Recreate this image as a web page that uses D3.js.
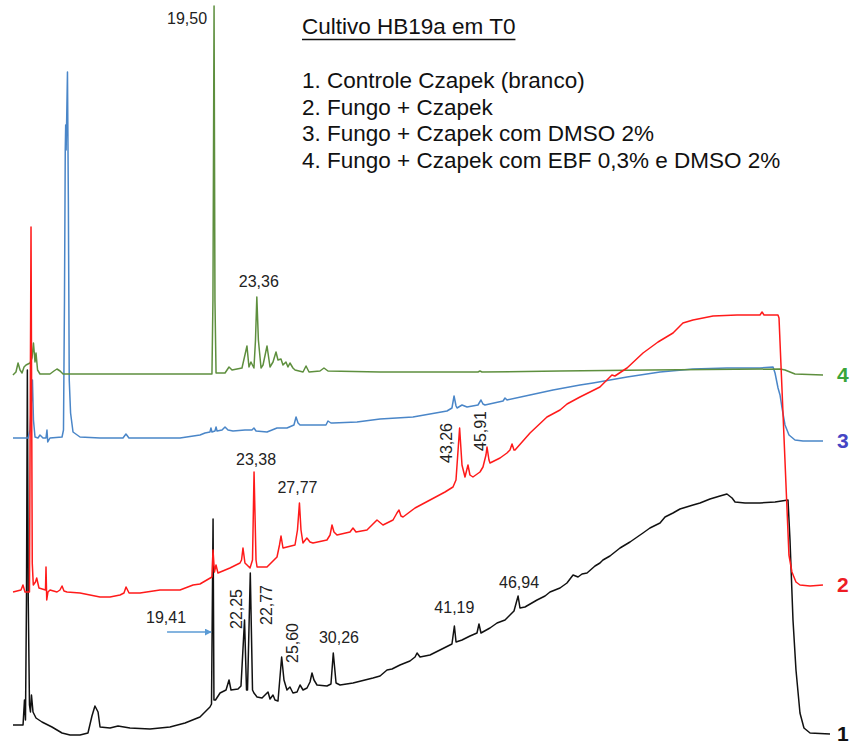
<!DOCTYPE html>
<html>
<head>
<meta charset="utf-8">
<script src="https://cdn.jsdelivr.net/npm/d3@7/dist/d3.min.js"></script>
<style>
  html, body { margin: 0; padding: 0; background: #fff; }
  svg { display: block; font-family: "Liberation Sans", Arial, sans-serif; }
</style>
</head>
<body>
<svg id="chart" width="856" height="744"></svg>
<script>
// Stacked HPLC chromatograms: [retention time (min), signal (mAU)]
const trace1 = [[1.35,1.5],[2.26,1.5],[2.39,14],[2.48,4],[2.57,64],[2.65,179],[2.73,64],[2.84,11.5],[2.93,8],[3.02,16.5],[3.16,8],[3.43,5],[3.97,3],[4.87,0.5],[5.78,-2.5],[6.50,-3.5],[7.40,-3.5],[8.12,-2.5],[8.48,6],[8.75,11],[9.03,8],[9.21,0.5],[10.11,0],[10.83,1],[11.91,0],[13.72,-0.5],[15.52,0.5],[16.88,2.5],[18.23,5.5],[19.13,10.5],[19.27,12],[19.41,104.5],[19.49,14],[19.63,14],[20.04,17.5],[20.58,19],[20.85,24],[21.03,19],[21.66,19.5],[21.93,21],[22.25,54],[22.43,19],[22.52,19],[22.77,77.5],[22.97,19],[23.10,17.5],[23.38,15.5],[23.83,15],[24.19,17],[24.37,18],[24.55,14.5],[24.82,16.5],[25.00,14],[25.27,13.5],[25.60,35.5],[25.81,24],[26.08,19],[26.35,20.5],[26.62,17.5],[26.99,18],[27.26,21.5],[27.53,19],[27.89,20],[28.16,23],[28.34,27.5],[28.52,24],[28.79,21.5],[29.69,21],[30.05,22],[30.26,37.5],[30.51,22.5],[30.87,21.5],[32.04,22.5],[33.12,24],[33.84,25],[34.48,26],[35.11,29],[35.56,29.5],[36.28,31.5],[37.18,33.5],[37.64,35.5],[37.82,37.5],[38.09,35.5],[38.99,36.5],[39.89,39],[40.61,41],[40.97,42],[41.19,51],[41.34,43],[41.88,44],[42.60,46],[43.23,47.5],[43.41,52],[43.59,47.5],[44.40,50],[45.04,52.5],[45.76,54],[46.21,56.5],[46.57,58.5],[46.94,66],[47.11,60],[47.56,60.5],[48.65,64],[49.37,66],[49.82,68],[50.72,70],[51.35,72.5],[51.90,76.5],[52.35,75.5],[52.71,77],[53.16,77.5],[53.88,81],[54.33,82.5],[54.60,84],[55.23,86],[56.14,90],[57.04,93],[58.21,97.5],[58.84,100],[59.75,102.5],[60.20,105.5],[60.92,107.5],[61.55,109.5],[62.73,111.5],[63.36,112.5],[64.26,114.5],[65.16,116],[65.79,117],[66.25,115],[66.52,113],[67.42,112.5],[68.77,112.5],[70.13,113],[71.30,114],[71.48,94],[71.75,54],[72.02,29],[72.38,7.5],[72.74,0],[73.29,-2.5],[75.09,-3]];

const trace2 = [[0.07,0],[0.84,1],[1.03,3.5],[1.23,0],[1.66,0],[1.81,182.5],[1.93,14.5],[2.03,3.5],[2.24,5],[2.36,7],[2.58,2],[3.21,1],[3.26,12.5],[3.33,-4],[3.45,0],[3.65,1],[4.32,0],[4.61,1],[4.81,3],[5.00,0.5],[5.29,0],[6.55,-0.5],[8.48,-2.5],[9.45,-2.5],[10.42,-1.5],[10.80,-0.5],[11.00,2.5],[11.29,-0.5],[12.35,-0.5],[14.28,1],[16.22,1],[17.48,3.5],[18.15,4],[19.31,7.5],[19.41,21],[19.55,10],[19.70,13.5],[19.89,9.5],[21.05,12],[22.02,14.5],[22.17,16],[22.31,22],[22.50,14.5],[22.70,13.5],[22.99,12],[23.23,16],[23.38,60],[23.57,16],[23.67,12.5],[24.63,12.5],[25.60,17.5],[25.84,23.5],[25.99,28],[26.18,22],[26.57,22.5],[27.34,23.5],[27.58,31],[27.77,44.5],[27.92,31],[28.11,24.5],[28.49,27],[28.79,25],[29.08,24.5],[30.43,26],[30.73,28.5],[30.92,33.5],[31.11,30],[31.40,28.5],[32.66,30],[32.95,32],[33.24,30],[34.30,31],[35.27,36],[35.85,33.5],[36.82,36],[37.20,39.5],[37.40,41],[37.59,38],[37.79,37.5],[38.95,42],[40.40,46],[41.85,50],[42.62,52.5],[42.91,56],[43.26,82],[43.49,63.5],[43.78,57.5],[44.07,63.5],[44.26,58.5],[44.55,57.5],[45.23,60],[45.52,62.5],[45.81,68.5],[45.91,72.5],[46.10,66],[46.20,64.5],[47.17,67],[47.84,69.5],[48.13,71],[48.33,74],[48.52,71],[48.62,71],[50.07,79.5],[51.71,87.5],[52.97,91],[53.65,94],[54.90,97.5],[55.87,100],[56.83,102.5],[57.80,107.5],[57.99,108.5],[58.28,108],[59.45,112],[61.00,119.5],[62.45,125],[63.90,129.5],[64.86,134.5],[65.83,136],[67.77,138],[70.09,138.5],[72.31,138.5],[72.51,140],[72.70,138.5],[74.05,138.5],[74.15,137],[75.11,18.5],[75.40,10],[75.79,5],[76.18,3.5],[77.15,3],[78.40,3.5]];

const trace3 = [[1.35,0],[2.71,0],[2.89,4],[3.02,19],[3.11,29],[3.20,9],[3.34,0.5],[3.61,0],[3.79,1.5],[4.06,0],[4.33,0],[4.42,4],[4.49,-2],[4.69,0],[5.78,0.5],[5.91,4],[6.00,69],[6.07,144],[6.11,156.5],[6.15,144],[6.19,156.5],[6.27,183],[6.35,119],[6.43,29],[6.55,12.5],[6.77,3],[7.40,0.5],[9.21,0],[11.28,0],[11.55,2],[11.82,0],[14.62,0],[16.43,0],[18.23,1.5],[18.68,2.5],[19.13,3],[19.22,5],[19.31,3],[19.58,3.5],[19.68,5.5],[19.77,3.5],[20.22,4],[20.49,5.5],[20.76,4],[21.21,3.5],[22.29,4],[22.92,4],[23.10,5],[23.29,3.5],[24.28,3],[25.18,5],[26.08,5],[26.71,6.5],[26.90,10.5],[27.08,7.5],[27.26,6.5],[29.06,6.5],[29.60,6.5],[29.78,8.5],[30.05,7.5],[30.23,7.5],[32.40,8],[34.48,9.5],[37.45,10.5],[40.52,13.5],[40.97,15],[41.16,21],[41.34,16],[41.43,15],[41.88,16.5],[42.33,15.5],[43.32,16.5],[43.59,19],[43.77,17],[43.95,16.5],[45.58,18.5],[45.76,20],[45.94,19],[48.01,21.5],[50.09,24],[52.53,26.5],[53.70,27.5],[56.77,30.5],[59.75,33],[62.73,34.5],[65.79,35],[68.77,35],[69.95,35.5],[70.13,32.5],[70.40,25],[70.58,21.5],[70.76,15],[71.03,6.5],[71.39,1.5],[71.93,-1],[72.65,-1.5],[74.46,-1.5]];

const trace4 = [[1.35,-0.5],[1.62,1],[1.81,5.5],[1.99,2],[2.17,0.5],[2.35,3.5],[2.53,4.5],[2.89,5.5],[3.07,8],[3.20,15.5],[3.34,6],[3.43,10.5],[3.57,2],[3.79,0],[4.69,0],[5.05,1.5],[5.32,2.5],[5.60,1.5],[5.87,0],[9.21,0],[13.72,0],[18.23,0],[19.31,0],[19.40,37],[19.50,184],[19.58,37],[19.68,0.5],[20.49,0.5],[20.85,3.5],[21.12,2],[22.02,3],[22.47,14],[22.65,3.5],[22.83,6],[23.10,3],[23.24,17],[23.36,38.5],[23.50,17],[23.74,3],[23.92,4.5],[24.28,14],[24.55,3.5],[24.82,6],[25.09,11],[25.27,7],[25.54,7.5],[25.72,4.5],[25.99,6],[26.17,3.5],[26.35,5.5],[26.62,3],[26.81,2],[27.53,1],[27.80,4],[28.07,1],[29.06,1.5],[29.42,3],[29.78,1.5],[34.48,1],[40.79,1],[43.32,1],[43.50,1.5],[43.68,1],[50.72,1.5],[58.84,2],[70.58,2.5],[71.03,2],[71.48,1],[71.93,0],[74.46,-0.5]];

// Legend text
const titleText = "Cultivo HB19a em T0";
const legendLines = [
  "1. Controle Czapek (branco)",
  "2. Fungo + Czapek",
  "3. Fungo + Czapek com DMSO 2%",
  "4. Fungo + Czapek com EBF 0,3% e DMSO 2%"
];

// Annotated retention times per trace
const peaks1 = [19.41, 22.25, 22.77, 25.60, 30.26, 41.19, 46.94];
const peaks2 = [23.38, 27.77, 43.26, 45.91];
const peaks4 = [19.50, 23.36];

// ---- layout / style ----
const svg = d3.select("#chart");

// each run was exported with its own time axis
const xMain = d3.scaleLinear().domain([0, 75]).range([-2, 829]);
const xRed  = d3.scaleLinear().domain([0, 75]).range([12.3, 787.8]);
const y = d3.scaleLinear().domain([0, 370]).range([740, 0]);

const traces = [
  { id: "1", data: trace1, x: xMain, offset: 6,   color: "#111111", numColor: "#111111", peaks: peaks1 },
  { id: "3", data: trace3, x: xMain, offset: 151, color: "#4a86c8", numColor: "#4545c4", peaks: [] },
  { id: "4", data: trace4, x: xMain, offset: 183, color: "#5e8f3e", numColor: "#3aa53a", peaks: peaks4 },
  { id: "2", data: trace2, x: xRed,  offset: 74,  color: "#ff1a1a", numColor: "#ee1c25", peaks: peaks2 }
];

// label placement relative to each peak apex
const labelPlace = {
  "1-19.41": { dx: -47, dy: 104, rot: false, arrow: true },
  "1-22.25": { dx: -2.5, dy: -11, rot: true },
  "1-22.77": { dx: 21.7, dy: 32, rot: true },
  "1-25.6":  { dx: 16.4, dy: -14, rot: true },
  "1-30.26": { dx: 5.7, dy: -10, rot: false },
  "1-41.19": { dx: 0, dy: -13, rot: false },
  "1-46.94": { dx: 1, dy: -8, rot: false },
  "2-23.38": { dx: 2, dy: -7, rot: false },
  "2-27.77": { dx: -2, dy: -10, rot: false },
  "2-43.26": { dx: -7.6, dy: 15, rot: true },
  "2-45.91": { dx: -1, dy: -16, rot: true },
  "4-19.5":  { dx: -7, dy: 18, rot: false, anchor: "end" },
  "4-23.36": { dx: 2, dy: -10, rot: false }
};

const fmt = t => d3.format(".2f")(t).replace(".", ",");

// traces
const line = tr => d3.line()
  .x(d => tr.x(d[0]))
  .y(d => y(d[1] + tr.offset))
  .curve(d3.curveLinear);

svg.append("g").selectAll("path")
  .data(traces)
  .join("path")
  .attr("d", tr => line(tr)(tr.data))
  .attr("fill", "none")
  .attr("stroke", tr => tr.color)
  .attr("stroke-width", 1.5)
  .attr("stroke-linejoin", "round");

// trace numbers at the right end
svg.append("g").selectAll("text")
  .data(traces)
  .join("text")
  .attr("x", 837)
  .attr("y", tr => y(tr.data[tr.data.length - 1][1] + tr.offset) + 7)
  .attr("font-size", 21)
  .attr("font-weight", "bold")
  .attr("fill", tr => tr.numColor)
  .text(tr => tr.id);

// arrow marker
svg.append("defs").append("marker")
  .attr("id", "arrowHead")
  .attr("viewBox", "0 0 10 10")
  .attr("refX", 9).attr("refY", 5)
  .attr("markerWidth", 7).attr("markerHeight", 7)
  .attr("markerUnits", "userSpaceOnUse")
  .attr("orient", "auto")
  .append("path").attr("d", "M0,0 L10,5 L0,10 Z").attr("fill", "#5b9bd5");

// peak labels
const gLab = svg.append("g").attr("font-size", 16).attr("fill", "#222");
traces.forEach(tr => {
  tr.peaks.forEach(t => {
    const pt = tr.data.find(d => d[0] === t);
    const px = tr.x(t), py = y(pt[1] + tr.offset);
    const p = labelPlace[tr.id + "-" + t];
    const lx = px + p.dx, ly = py + p.dy;
    const txt = gLab.append("text").text(fmt(t));
    if (p.rot) {
      txt.attr("transform", `translate(${lx},${ly}) rotate(-90)`).attr("text-anchor", "middle");
    } else {
      txt.attr("x", lx).attr("y", ly).attr("text-anchor", p.anchor || "middle");
    }
    if (p.arrow) {
      svg.append("line")
        .attr("x1", px - 46).attr("y1", py + 113)
        .attr("x2", px - 2).attr("y2", py + 113)
        .attr("stroke", "#5b9bd5").attr("stroke-width", 1.5)
        .attr("marker-end", "url(#arrowHead)");
    }
  });
});

// title and legend
const gLeg = svg.append("g").attr("fill", "#111").attr("font-size", 22.5);
const title = gLeg.append("text").attr("x", 302).attr("y", 34).text(titleText);
const tw = title.node().getComputedTextLength();
gLeg.append("line")
  .attr("x1", 302).attr("x2", 302 + tw)
  .attr("y1", 39.5).attr("y2", 39.5)
  .attr("stroke", "#111").attr("stroke-width", 1.3);
gLeg.selectAll("text.leg")
  .data(legendLines)
  .join("text")
  .attr("class", "leg")
  .attr("x", 302)
  .attr("y", (d, i) => 88 + i * 26.7)
  .text(d => d);
</script>
</body>
</html>
